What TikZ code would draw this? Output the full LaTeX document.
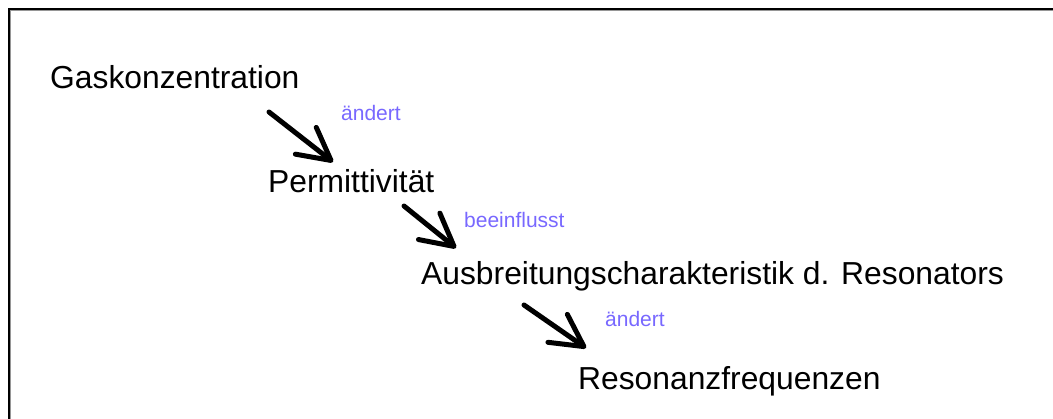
\documentclass[tikz,border=0pt]{standalone}
\usepackage{fontspec}
\setmainfont{Liberation Sans}
\usetikzlibrary{arrows.meta}
\definecolor{lbl}{RGB}{120,104,255}
\definecolor{framegray}{RGB}{150,150,150}
\tikzset{
  term/.style={anchor=base west, inner sep=0pt, font=\fontsize{31.8}{36}\selectfont},
  lab/.style={anchor=base west, inner sep=0pt, text=lbl, font=\fontsize{21}{25}\selectfont},
  conn/.style={line width=5pt, line cap=round, line join=round,
    -{Straight Barb[length=32pt,width=34pt,line cap=round,line join=round]}},
  frameline/.style={line width=2pt, black}
}
\begin{document}
\begin{tikzpicture}[x=1pt,y=-1pt]
\useasboundingbox (0,0) rectangle (1053,419);
% frame
\draw[framegray, line width=1pt] (10.5,419) -- (10.5,10.5) -- (1053,10.5);
\draw[frameline] (9,419) -- (9,9) -- (1053,9);
% terms
\node[term] (gas) at (50,89) {Gaskonzentration};
\node[term] (perm) at (268,193) {Permittivität};
\node[term] (aus) at (421,285) {Ausbreitungscharakteristik d. Resonators};
\node[term] (res) at (578,390) {Resonanzfrequenzen};
% labels
\node[lab] (l1) at (341,121) {ändert};
\node[lab] (l2) at (464,228) {beeinflusst};
\node[lab] (l3) at (605,327) {ändert};
% arrow end points
\coordinate (a1s) at (269,112);
\coordinate (a1e) at (333,162);
\coordinate (a2s) at (404,206);
\coordinate (a2e) at (456,248);
\coordinate (a3s) at (524,305);
\coordinate (a3e) at (586,348);
\draw[conn] (a1s) -- (a1e);
\draw[conn] (a2s) -- (a2e);
\draw[conn] (a3s) -- (a3e);
\end{tikzpicture}
\end{document}
